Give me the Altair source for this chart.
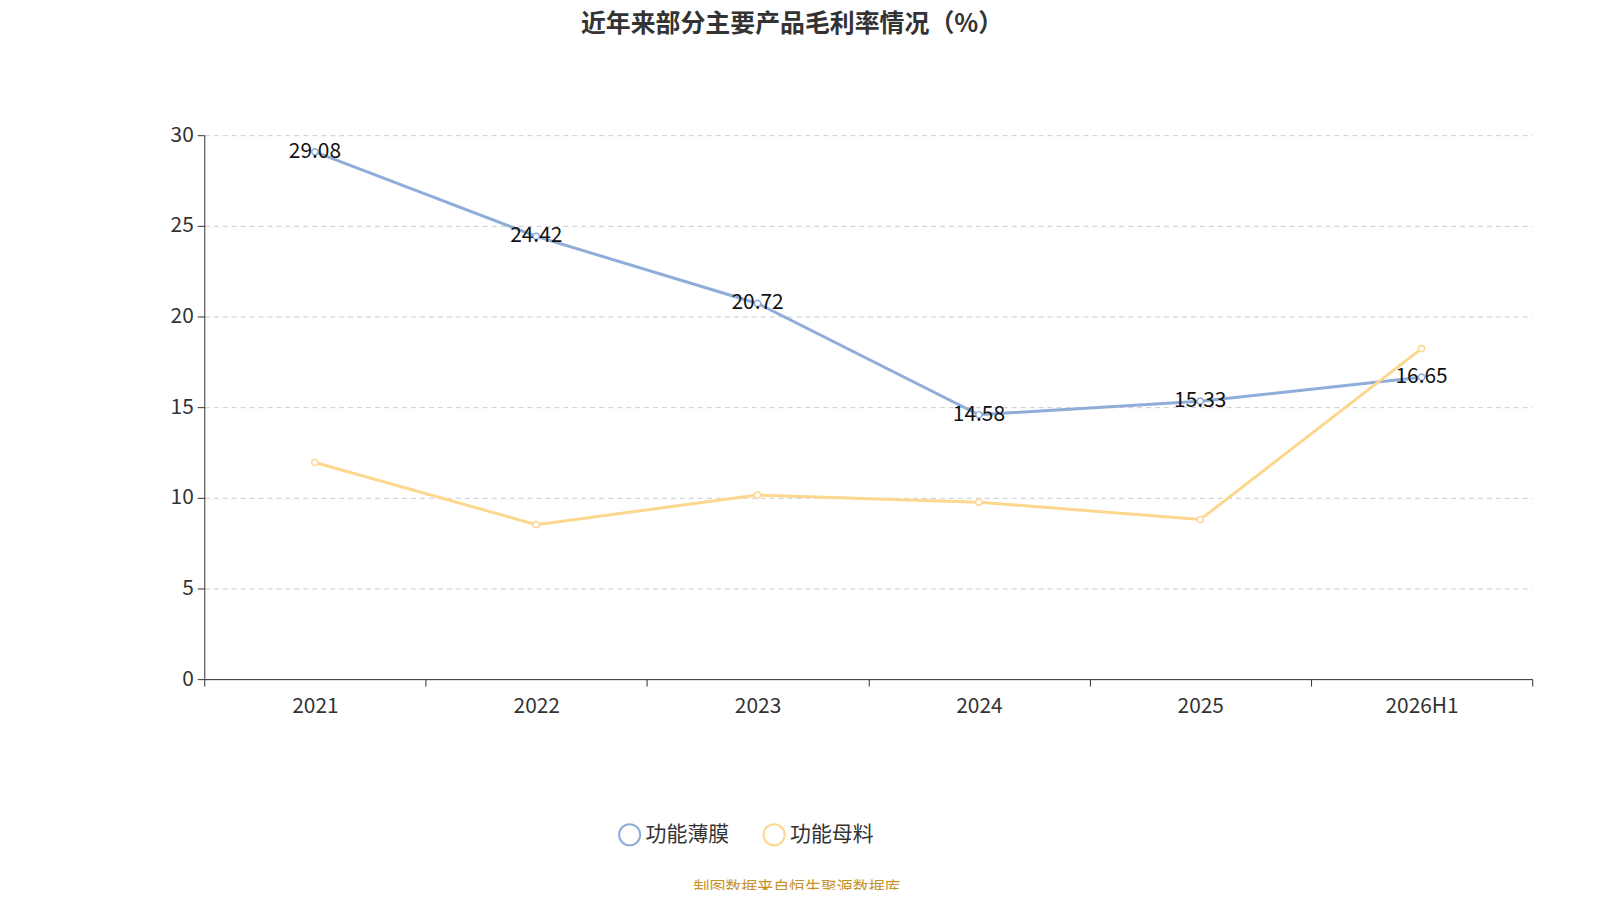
import altair as alt
import pandas as pd

years = ["2021", "2022", "2023", "2024", "2025", "2026H1"]
film = [29.08, 24.42, 20.72, 14.58, 15.33, 16.65]
masterbatch = [11.95, 8.52, 10.15, 9.76, 8.8, 18.23]
series = ["功能薄膜", "功能母料"]

rows = []
for i, y in enumerate(years):
    rows.append({"year": y, "series": series[0], "value": film[i]})
    rows.append({"year": y, "series": series[1], "value": masterbatch[i]})
df = pd.DataFrame(rows)

font = "Noto Sans CJK SC"
colors = ["#8eadd9", "#fdd78e"]

base = alt.Chart(df).encode(
    x=alt.X("year:N", sort=years, title=None,
            scale=alt.Scale(paddingInner=0, paddingOuter=0),
            axis=alt.Axis(tickBand="extent", labelFontSize=21, labelColor="#333", labelFont=font,
                          labelPadding=10, tickSize=7, domainColor="#333", tickColor="#333",
                          labelAngle=0, grid=False)),
    y=alt.Y("value:Q", title=None, scale=alt.Scale(domain=[0, 30]),
            axis=alt.Axis(values=[0, 5, 10, 15, 20, 25, 30], labelFontSize=21, labelFont=font,
                          labelColor="#333", tickSize=7, tickColor="#333",
                          domainColor="#333", gridDash=[5, 4], gridColor="#ccc",
                          labelPadding=4)),
    color=alt.Color("series:N", sort=series,
                    scale=alt.Scale(domain=series, range=colors),
                    legend=alt.Legend(title=None, orient="none", legendX=415, legendY=690,
                                      direction="horizontal", symbolType="circle",
                                      symbolSize=450, symbolStrokeWidth=2, labelFontSize=21,
                                      labelColor="#333", columnPadding=30, labelFont=font)),
)

lines = base.mark_line(strokeWidth=3, point=alt.OverlayMarkDef(filled=False, fill="white", size=40, strokeWidth=1.5))

labels = alt.Chart(df[df.series == series[0]]).mark_text(fontSize=21, color="#111", font=font).encode(
    x=alt.X("year:N", sort=years), y="value:Q", text=alt.Text("value:Q", format=".2f"))

title = alt.Chart(df.head(1)).mark_text(fontSize=25, color="#333", font=font, fontWeight="bold").encode(
    x=alt.value(590), y=alt.value(-112), text=alt.value("近年来部分主要产品毛利率情况（%）"))

source_note = alt.Chart(df.head(1)).mark_text(fontSize=16, color="#c8922a", font=font).encode(
    x=alt.value(595), y=alt.value(756), text=alt.value("制图数据来自恒生聚源数据库"))

chart = alt.layer(lines, labels, title, source_note).properties(
    width=1333, height=546,
    autosize=alt.AutoSizeParams(type="none"),
    padding={"left": 197, "top": 126, "right": 60, "bottom": 210},
).configure_view(stroke=None)

chart.save("out.html", embed_options={"renderer": "svg", "actions": False})
